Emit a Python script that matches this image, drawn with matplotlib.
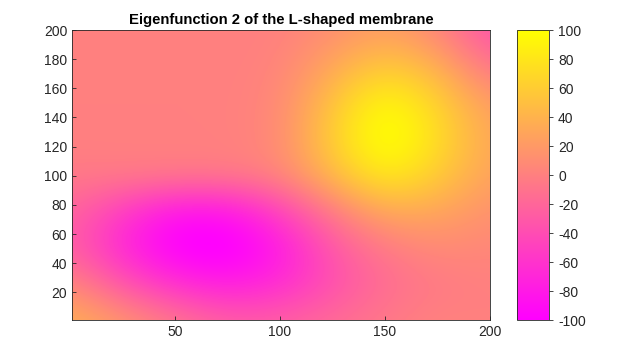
import numpy as np
import matplotlib.pyplot as plt

plt.rcParams['font.family'] = ['Liberation Sans', 'DejaVu Sans']
plt.rcParams['axes.unicode_minus'] = False

# grid nodes (membrane values)
x_nodes = [0, 25, 50, 75, 100, 125, 150, 175, 200]
y_nodes = [0, 25, 50, 75, 100, 125, 150, 175, 200]

# rows from y=0 (bottom) to y=200 (top)
row_y0 = [40, 18, -5, -25, -25, -15, -5, 3, 0]
row_y25 = [8, -32, -62, -78, -66, -38, -15, -5, 0]
row_y50 = [-25, -70, -105, -110, -82, -32, -5, 8, 5]
row_y75 = [-20, -55, -88, -88, -50, -5, 32, 30, 12]
row_y100 = [-5, -3, -3, -3, 3, 45, 88, 60, 25]
row_y125 = [0, 0, 0, 0, 6, 62, 112, 75, 28]
row_y150 = [0, 0, 0, 0, 5, 52, 100, 65, 20]
row_y175 = [0, 0, 0, 0, 2, 30, 60, 38, -12]
row_y200 = [0, 0, 0, 0, 0, 10, 25, 5, -38]

Z = np.array([row_y0, row_y25, row_y50, row_y75, row_y100,
              row_y125, row_y150, row_y175, row_y200], dtype=float)

dx = x_nodes[1] - x_nodes[0]
dy = y_nodes[1] - y_nodes[0]

fig = plt.figure(figsize=(6.4, 3.6), dpi=100)
ax = fig.add_axes([0.1125, 0.111, 0.6531, 0.8056])
cax = fig.add_axes([0.8078, 0.111, 0.05, 0.8056])

im = ax.imshow(Z, origin='lower', cmap='spring', vmin=-100, vmax=100,
               interpolation='bicubic', aspect='auto',
               extent=[x_nodes[0] - dx / 2, x_nodes[-1] + dx / 2,
                       y_nodes[0] - dy / 2, y_nodes[-1] + dy / 2])
ax.set_xlim(1, 200)
ax.set_ylim(1, 200)
ax.set_xticks([50, 100, 150, 200])
ax.set_yticks(range(20, 201, 20))
ax.tick_params(direction='in', length=3, width=0.6, labelsize=10, colors='#262626')
for s in ax.spines.values():
    s.set_linewidth(0.6)
    s.set_color('#262626')
ax.set_title('Eigenfunction 2 of the L-shaped membrane', fontsize=10.7,
             fontweight='bold', pad=4)

cb = fig.colorbar(im, cax=cax, ticks=range(-100, 101, 20))
cb.outline.set_linewidth(0.6)
cb.outline.set_edgecolor('#262626')
cax.tick_params(direction='out', length=3, width=0.6, labelsize=10, colors='#262626')

fig.savefig('out.png', dpi=100)
